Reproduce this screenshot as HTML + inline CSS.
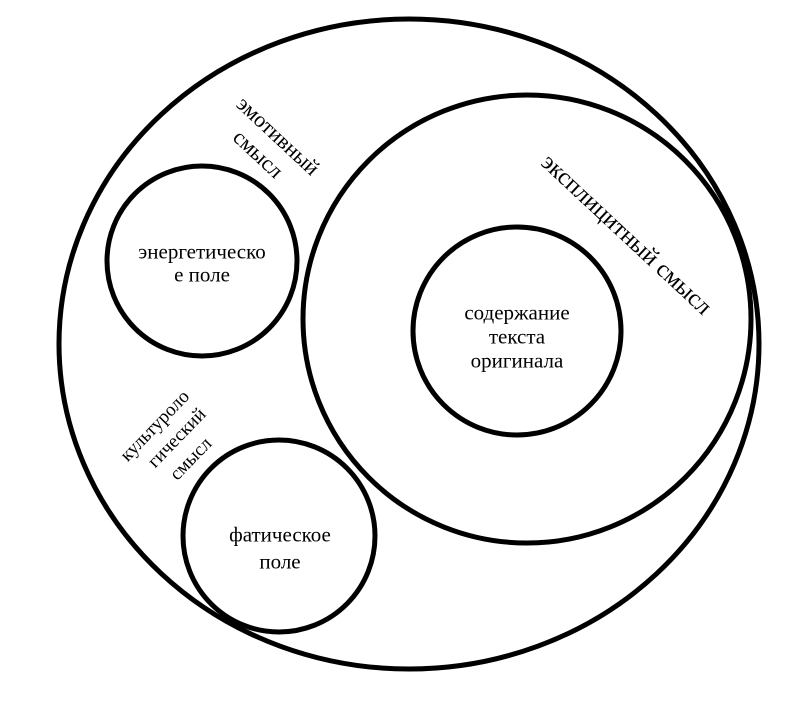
<!DOCTYPE html>
<html><head><meta charset="utf-8"><style>
body{margin:0;background:#fff;width:806px;height:702px;position:relative;overflow:hidden}
svg{position:absolute;left:0;top:0}
.t{position:absolute;font-family:"Liberation Serif","Times New Roman","DejaVu Serif",serif;white-space:nowrap;line-height:1;transform-origin:50% 50%;color:#000}
</style></head>
<body>
<svg width="806" height="702" viewBox="0 0 806 702" xmlns="http://www.w3.org/2000/svg">
<g fill="none" stroke="#000" stroke-width="5">
<ellipse cx="409" cy="344" rx="350" ry="325"/>
<circle cx="527" cy="319" r="224"/>
<circle cx="517" cy="331" r="104"/>
<circle cx="202" cy="261" r="95"/>
<circle cx="279" cy="536" r="96"/>
</g>
</svg>
<div class="t" style="left:202px;top:252px;font-size:21px;transform:translate(-50%,-50%)">энергетическо</div>
<div class="t" style="left:202px;top:275px;font-size:21px;transform:translate(-50%,-50%)">е поле</div>
<div class="t" style="left:517px;top:313px;font-size:21px;transform:translate(-50%,-50%)">содержание</div>
<div class="t" style="left:517px;top:337px;font-size:21px;transform:translate(-50%,-50%)">текста</div>
<div class="t" style="left:517px;top:361px;font-size:21px;transform:translate(-50%,-50%)">оригинала</div>
<div class="t" style="left:280px;top:535px;font-size:21px;transform:translate(-50%,-50%)">фатическое</div>
<div class="t" style="left:280px;top:562px;font-size:21px;transform:translate(-50%,-50%)">поле</div>
<div class="t" style="left:278px;top:136px;font-size:22px;transform:translate(-50%,-50%) rotate(43deg)">эмотивный</div>
<div class="t" style="left:258px;top:154px;font-size:22px;transform:translate(-50%,-50%) rotate(43deg)">смысл</div>
<div class="t" style="left:626px;top:235px;font-size:24.5px;transform:translate(-50%,-50%) rotate(43deg)">эксплицитный смысл</div>
<div class="t" style="left:155px;top:426px;font-size:19px;transform:translate(-50%,-50%) rotate(-46deg)">культуроло</div>
<div class="t" style="left:177px;top:438px;font-size:19px;transform:translate(-50%,-50%) rotate(-46deg)">гический</div>
<div class="t" style="left:191px;top:459px;font-size:19px;transform:translate(-50%,-50%) rotate(-46deg)">смысл</div>
</body></html>
